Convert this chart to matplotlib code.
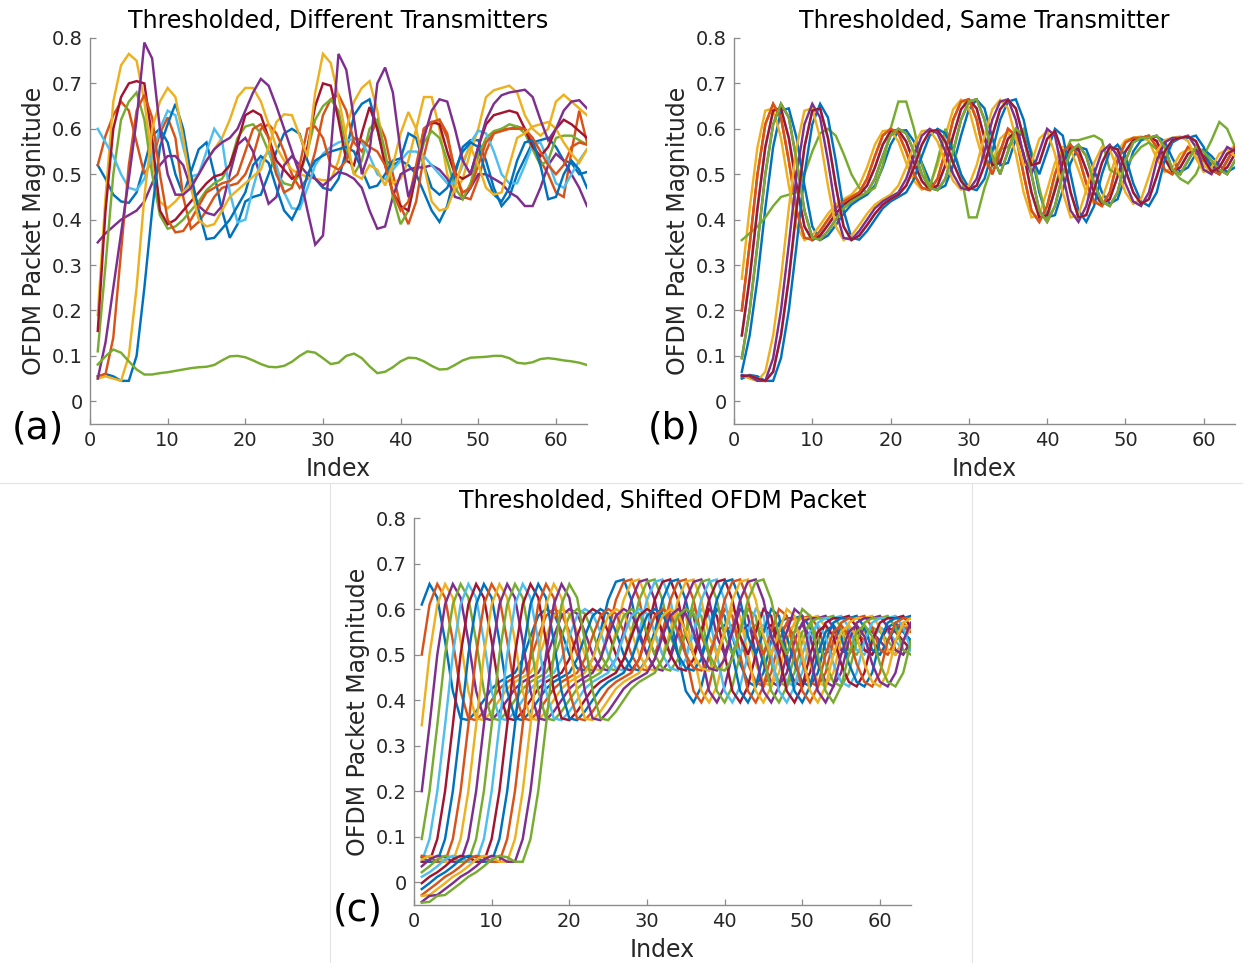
import numpy as np
import matplotlib
matplotlib.use("Agg")
import matplotlib.pyplot as plt
from matplotlib.lines import Line2D

plt.rcParams["font.family"] = ["DejaVu Sans"]

# MATLAB default line colour order
COLORS = ["#0072BD", "#D95319", "#EDB120", "#7E2F8E", "#77AC30", "#4DBEEE", "#A2142F"]

index = np.arange(1, 65)

# ---------------- (a) Thresholded, different transmitters ----------------
a_blue_1 = [0.52, 0.49, 0.455, 0.44, 0.437, 0.46, 0.52, 0.585, 0.60, 0.57,
            0.50, 0.455, 0.505, 0.555, 0.57, 0.50, 0.42, 0.36, 0.39, 0.44,
            0.45, 0.455, 0.50, 0.55, 0.59, 0.60, 0.589, 0.53, 0.49, 0.47,
            0.465, 0.49, 0.55, 0.63, 0.655, 0.665, 0.60, 0.53, 0.52, 0.53,
            0.52, 0.50, 0.46, 0.42, 0.395, 0.43, 0.50, 0.56, 0.575, 0.575,
            0.53, 0.47, 0.43, 0.45, 0.50, 0.535, 0.57, 0.575, 0.58, 0.56,
            0.53, 0.525, 0.50, 0.505]
a_orange_1 = [0.52, 0.585, 0.63, 0.66, 0.64, 0.57, 0.50, 0.53, 0.59, 0.625,
              0.58, 0.45, 0.38, 0.395, 0.42, 0.45, 0.47, 0.475, 0.48, 0.50,
              0.54, 0.60, 0.61, 0.59, 0.55, 0.50, 0.47, 0.49, 0.55, 0.63,
              0.665, 0.675, 0.64, 0.57, 0.55, 0.58, 0.62, 0.58, 0.50, 0.43,
              0.39, 0.44, 0.54, 0.61, 0.62, 0.58, 0.51, 0.45, 0.445, 0.49,
              0.55, 0.59, 0.60, 0.60, 0.605, 0.60, 0.57, 0.53, 0.50, 0.46,
              0.45, 0.55, 0.64, 0.57]
a_yellow_1 = [0.19, 0.45, 0.66, 0.74, 0.765, 0.75, 0.66, 0.53, 0.44, 0.425,
              0.44, 0.46, 0.48, 0.50, 0.53, 0.555, 0.58, 0.62, 0.67, 0.69,
              0.69, 0.66, 0.61, 0.56, 0.53, 0.51, 0.50, 0.495, 0.49, 0.487,
              0.487, 0.53, 0.60, 0.66, 0.69, 0.705, 0.64, 0.54, 0.48, 0.49,
              0.53, 0.60, 0.67, 0.67, 0.60, 0.50, 0.46, 0.49, 0.55, 0.60,
              0.67, 0.685, 0.69, 0.695, 0.68, 0.63, 0.60, 0.585, 0.60, 0.66,
              0.675, 0.66, 0.645, 0.63]
a_purple_1 = [0.35, 0.37, 0.385, 0.40, 0.41, 0.42, 0.44, 0.48, 0.52, 0.54,
              0.54, 0.52, 0.47, 0.43, 0.415, 0.41, 0.43, 0.50, 0.565, 0.58,
              0.55, 0.49, 0.435, 0.45, 0.52, 0.54, 0.52, 0.50, 0.49, 0.475,
              0.49, 0.505, 0.50, 0.49, 0.47, 0.42, 0.38, 0.385, 0.45, 0.50,
              0.51, 0.515, 0.515, 0.52, 0.51, 0.49, 0.45, 0.445, 0.47, 0.50,
              0.50, 0.49, 0.48, 0.46, 0.45, 0.43, 0.43, 0.47, 0.52, 0.545,
              0.53, 0.50, 0.47, 0.43]
a_green_1 = [0.11, 0.30, 0.50, 0.62, 0.66, 0.68, 0.62, 0.50, 0.41, 0.38,
             0.385, 0.40, 0.42, 0.44, 0.465, 0.48, 0.49, 0.52, 0.58, 0.605,
             0.61, 0.59, 0.55, 0.50, 0.48, 0.475, 0.50, 0.55, 0.62, 0.65,
             0.665, 0.64, 0.56, 0.50, 0.53, 0.60, 0.62, 0.55, 0.45, 0.39,
             0.42, 0.50, 0.57, 0.595, 0.58, 0.53, 0.47, 0.445, 0.48, 0.54,
             0.58, 0.595, 0.60, 0.61, 0.605, 0.59, 0.555, 0.52, 0.53, 0.58,
             0.585, 0.585, 0.575, 0.565]
a_lightblue_1 = [0.60, 0.57, 0.54, 0.50, 0.47, 0.465, 0.49, 0.54, 0.60, 0.64,
                 0.63, 0.56, 0.495, 0.50, 0.55, 0.60, 0.575, 0.46, 0.394, 0.40,
                 0.47, 0.53, 0.55, 0.52, 0.46, 0.425, 0.423, 0.47, 0.52, 0.545,
                 0.56, 0.57, 0.575, 0.577, 0.57, 0.54, 0.50, 0.489, 0.51, 0.53,
                 0.55, 0.55, 0.54, 0.52, 0.50, 0.48, 0.48, 0.52, 0.57, 0.596,
                 0.59, 0.55, 0.50, 0.48, 0.48, 0.52, 0.565, 0.57, 0.53, 0.48,
                 0.47, 0.50, 0.53, 0.555]
a_darkred_1 = [0.155, 0.42, 0.60, 0.67, 0.70, 0.705, 0.70, 0.58, 0.42, 0.39,
               0.40, 0.42, 0.44, 0.46, 0.48, 0.495, 0.50, 0.52, 0.57, 0.63,
               0.64, 0.63, 0.58, 0.53, 0.51, 0.49, 0.50, 0.56, 0.65, 0.70,
               0.695, 0.62, 0.53, 0.52, 0.59, 0.648, 0.60, 0.52, 0.46, 0.43,
               0.42, 0.50, 0.60, 0.615, 0.61, 0.55, 0.50, 0.49, 0.50, 0.56,
               0.61, 0.63, 0.635, 0.64, 0.635, 0.60, 0.56, 0.54, 0.56, 0.60,
               0.62, 0.61, 0.595, 0.58]
a_blue_2 = [0.055, 0.06, 0.055, 0.045, 0.045, 0.10, 0.25, 0.42, 0.56, 0.61,
            0.655, 0.60, 0.50, 0.42, 0.357, 0.36, 0.38, 0.40, 0.43, 0.46,
            0.52, 0.54, 0.525, 0.47, 0.42, 0.40, 0.435, 0.50, 0.53, 0.541,
            0.55, 0.555, 0.56, 0.55, 0.51, 0.47, 0.475, 0.50, 0.53, 0.535,
            0.59, 0.58, 0.52, 0.47, 0.455, 0.47, 0.51, 0.55, 0.57, 0.56,
            0.50, 0.455, 0.44, 0.47, 0.53, 0.57, 0.575, 0.52, 0.445, 0.45,
            0.50, 0.53, 0.51, 0.47]
a_orange_2 = [0.055, 0.06, 0.14, 0.33, 0.52, 0.64, 0.675, 0.625, 0.50, 0.40,
              0.372, 0.375, 0.40, 0.43, 0.46, 0.47, 0.48, 0.485, 0.50, 0.55,
              0.60, 0.61, 0.58, 0.50, 0.46, 0.47, 0.52, 0.60, 0.605, 0.58,
              0.52, 0.51, 0.53, 0.58, 0.575, 0.56, 0.55, 0.52, 0.46, 0.42,
              0.44, 0.52, 0.60, 0.615, 0.62, 0.59, 0.50, 0.46, 0.47, 0.52,
              0.57, 0.59, 0.595, 0.60, 0.60, 0.60, 0.58, 0.55, 0.52, 0.50,
              0.52, 0.56, 0.57, 0.565]
a_yellow_2 = [0.05, 0.055, 0.05, 0.045, 0.10, 0.25, 0.45, 0.60, 0.66, 0.69,
              0.67, 0.58, 0.47, 0.40, 0.385, 0.39, 0.42, 0.45, 0.465, 0.48,
              0.495, 0.51, 0.56, 0.615, 0.632, 0.63, 0.585, 0.54, 0.68, 0.765,
              0.745, 0.67, 0.58, 0.50, 0.49, 0.52, 0.51, 0.475, 0.52, 0.59,
              0.637, 0.60, 0.52, 0.44, 0.42, 0.425, 0.47, 0.53, 0.56, 0.52,
              0.47, 0.455, 0.46, 0.52, 0.58, 0.59, 0.605, 0.61, 0.615, 0.60,
              0.57, 0.545, 0.525, 0.555]
a_purple_2 = [0.05, 0.13, 0.25, 0.37, 0.49, 0.62, 0.79, 0.755, 0.60, 0.50,
              0.455, 0.455, 0.47, 0.50, 0.53, 0.555, 0.57, 0.58, 0.60, 0.64,
              0.68, 0.71, 0.695, 0.65, 0.60, 0.55, 0.50, 0.42, 0.345, 0.365,
              0.55, 0.765, 0.73, 0.62, 0.50, 0.55, 0.70, 0.735, 0.68, 0.55,
              0.45, 0.50, 0.58, 0.64, 0.665, 0.66, 0.60, 0.53, 0.50, 0.56,
              0.62, 0.655, 0.674, 0.68, 0.683, 0.686, 0.67, 0.62, 0.575, 0.60,
              0.64, 0.66, 0.663, 0.645]
a_green_2 = [0.081, 0.099, 0.114, 0.107, 0.088, 0.07, 0.059, 0.059, 0.062, 0.064,
             0.067, 0.07, 0.073, 0.075, 0.076, 0.08, 0.09, 0.099, 0.10, 0.097,
             0.09, 0.082, 0.076, 0.075, 0.078, 0.087, 0.10, 0.11, 0.107, 0.095,
             0.082, 0.085, 0.10, 0.105, 0.095, 0.077, 0.062, 0.065, 0.075, 0.088,
             0.096, 0.095, 0.088, 0.078, 0.07, 0.071, 0.08, 0.09, 0.096, 0.097,
             0.098, 0.10, 0.10, 0.095, 0.085, 0.083, 0.086, 0.093, 0.095, 0.093,
             0.09, 0.088, 0.085, 0.08]

series_a = [a_blue_1, a_orange_1, a_yellow_1, a_purple_1, a_green_1, a_lightblue_1,
            a_darkred_1, a_blue_2, a_orange_2, a_yellow_2, a_purple_2, a_green_2]

# ---------------- one received OFDM packet, half-sample grid ----------------
# values at k = -19, -18.5, ..., 62 samples relative to the first peak
PACKET_K0 = -19.0
packet = [
    -0.045, -0.044, -0.043, -0.036, -0.030, -0.029, -0.028, -0.021, -0.015, -0.008,
    -0.002, 0.005, 0.012, 0.017, 0.022, 0.028, 0.035, 0.042, 0.050, 0.055,
    0.058, 0.057, 0.055, 0.050, 0.045, 0.045, 0.045, 0.065, 0.095, 0.145,
    0.200, 0.270, 0.345, 0.425, 0.500, 0.560, 0.610, 0.640, 0.655, 0.645,
    0.625, 0.580, 0.530, 0.475, 0.420, 0.385, 0.360, 0.355, 0.356, 0.365,
    0.375, 0.388, 0.400, 0.413, 0.425, 0.433, 0.440, 0.445, 0.450, 0.455,
    0.460, 0.475, 0.490, 0.515, 0.540, 0.565, 0.585, 0.595, 0.600, 0.597,
    0.590, 0.572, 0.550, 0.525, 0.500, 0.485, 0.470, 0.466, 0.465, 0.475,
    0.490, 0.520, 0.550, 0.585, 0.620, 0.643, 0.660, 0.664, 0.665, 0.645,
    0.620, 0.580, 0.540, 0.520, 0.500, 0.525, 0.550, 0.578, 0.600, 0.595,
    0.585, 0.545, 0.500, 0.460, 0.420, 0.405, 0.395, 0.410, 0.430, 0.465,
    0.500, 0.525, 0.550, 0.560, 0.565, 0.555, 0.540, 0.510, 0.480, 0.460,
    0.440, 0.435, 0.430, 0.445, 0.460, 0.495, 0.530, 0.550, 0.570, 0.575,
    0.580, 0.580, 0.580, 0.583, 0.585, 0.573, 0.560, 0.535, 0.510, 0.505,
    0.500, 0.515, 0.530, 0.545, 0.560, 0.555, 0.550, 0.540, 0.530, 0.520,
    0.510, 0.505, 0.500, 0.515, 0.530, 0.545, 0.560, 0.565, 0.570, 0.560,
    0.550, 0.540, 0.530,
]

# ---------------- (b) Thresholded, same transmitter ----------------
# arrival position (index of first peak) of each capture; None = odd capture
b_peaks = [6.5, 5.0, 4.5, 6.0, None, 5.5, 5.5, 11.0, 5.0, 9.5, 10.0, 6.0, 10.5, 10.5]
b_odd_green = [0.355, 0.37, 0.385, 0.405, 0.43, 0.45, 0.455, 0.46, 0.50, 0.55,
               0.59, 0.60, 0.585, 0.545, 0.50, 0.47, 0.46, 0.47, 0.52, 0.60,
               0.66, 0.66, 0.60, 0.52, 0.47, 0.53, 0.60, 0.56, 0.50, 0.405,
               0.405, 0.47, 0.52, 0.555, 0.56, 0.585, 0.60, 0.55, 0.47, 0.40,
               0.47, 0.535, 0.575, 0.575, 0.58, 0.585, 0.575, 0.51, 0.50, 0.515,
               0.54, 0.56, 0.57, 0.555, 0.535, 0.51, 0.49, 0.48, 0.50, 0.54,
               0.575, 0.615, 0.60, 0.56]

# ---------------- (c) Thresholded, shifted OFDM packet ----------------
c_peaks = [2, 3, 4, 5, 6, 7, 8, 9, 10, 11, 12, 13, 14, 15, 16, 17, 18, 19, 20]


def packet_at(peak):
    """Samples of the packet seen at index 1..64 when its first peak sits at `peak`."""
    start = int(round(2 * (1 - peak - PACKET_K0)))
    return packet[start:start + 2 * len(index):2]


LW = 1.75
AXIS_GRAY = "#8c8c8c"
TEXT_GRAY = "#262626"

fig = plt.figure(figsize=(12.43, 9.63), dpi=100)
W, H = 1243.0, 963.0


def make_axes(left, top, right, bottom):
    return fig.add_axes([left / W, 1 - bottom / H, (right - left) / W, (bottom - top) / H])


def style(ax, title):
    ax.set_xlim(0, 64)
    ax.set_ylim(-0.05, 0.8)
    ax.set_xticks([0, 10, 20, 30, 40, 50, 60])
    ax.set_yticks([0, 0.1, 0.2, 0.3, 0.4, 0.5, 0.6, 0.7, 0.8])
    ax.set_yticklabels(["0", "0.1", "0.2", "0.3", "0.4", "0.5", "0.6", "0.7", "0.8"])
    for s in ("top", "right"):
        ax.spines[s].set_visible(False)
    for s in ("left", "bottom"):
        ax.spines[s].set_color(AXIS_GRAY)
        ax.spines[s].set_linewidth(1.0)
    ax.tick_params(direction="in", length=4, width=0.9, color=AXIS_GRAY,
                   labelcolor=TEXT_GRAY, labelsize=14, pad=5)
    ax.set_title(title, fontsize=17, color="black", pad=7)
    ax.set_xlabel("Index", fontsize=17, color=TEXT_GRAY, labelpad=5)
    ax.set_ylabel("OFDM Packet Magnitude", fontsize=17, color=TEXT_GRAY, labelpad=4)


ax_a = make_axes(90, 38, 587, 424)
for i, y in enumerate(series_a):
    ax_a.plot(index, y, color=COLORS[i % 7], lw=LW, solid_joinstyle="miter")
style(ax_a, "Thresholded, Different Transmitters")

ax_b = make_axes(734, 38, 1235, 424)
for i, p in enumerate(b_peaks):
    y = b_odd_green if p is None else packet_at(p)
    ax_b.plot(index, y, color=COLORS[i % 7], lw=LW, solid_joinstyle="miter")
style(ax_b, "Thresholded, Same Transmitter")

ax_c = make_axes(414, 518, 911, 905)
for i, p in enumerate(c_peaks):
    ax_c.plot(index, packet_at(p), color=COLORS[i % 7], lw=LW, solid_joinstyle="miter")
style(ax_c, "Thresholded, Shifted OFDM Packet")

# panel letters
fig.text(38 / W, 1 - 428 / H, "(a)", fontsize=27, ha="center", va="center", color="black")
fig.text(674 / W, 1 - 428 / H, "(b)", fontsize=27, ha="center", va="center", color="black")
fig.text(358 / W, 1 - 910 / H, "(c)", fontsize=27, ha="center", va="center", color="black")

# thin frame around the lower panel
frame = "#e3e3e3"
fig.add_artist(Line2D([0, 1], [1 - 483 / H, 1 - 483 / H], color=frame, lw=0.8, transform=fig.transFigure))
fig.add_artist(Line2D([330 / W, 330 / W], [0, 1 - 483 / H], color=frame, lw=0.8, transform=fig.transFigure))
fig.add_artist(Line2D([972 / W, 972 / W], [0, 1 - 483 / H], color=frame, lw=0.8, transform=fig.transFigure))

fig.savefig("out.png", dpi=100)
